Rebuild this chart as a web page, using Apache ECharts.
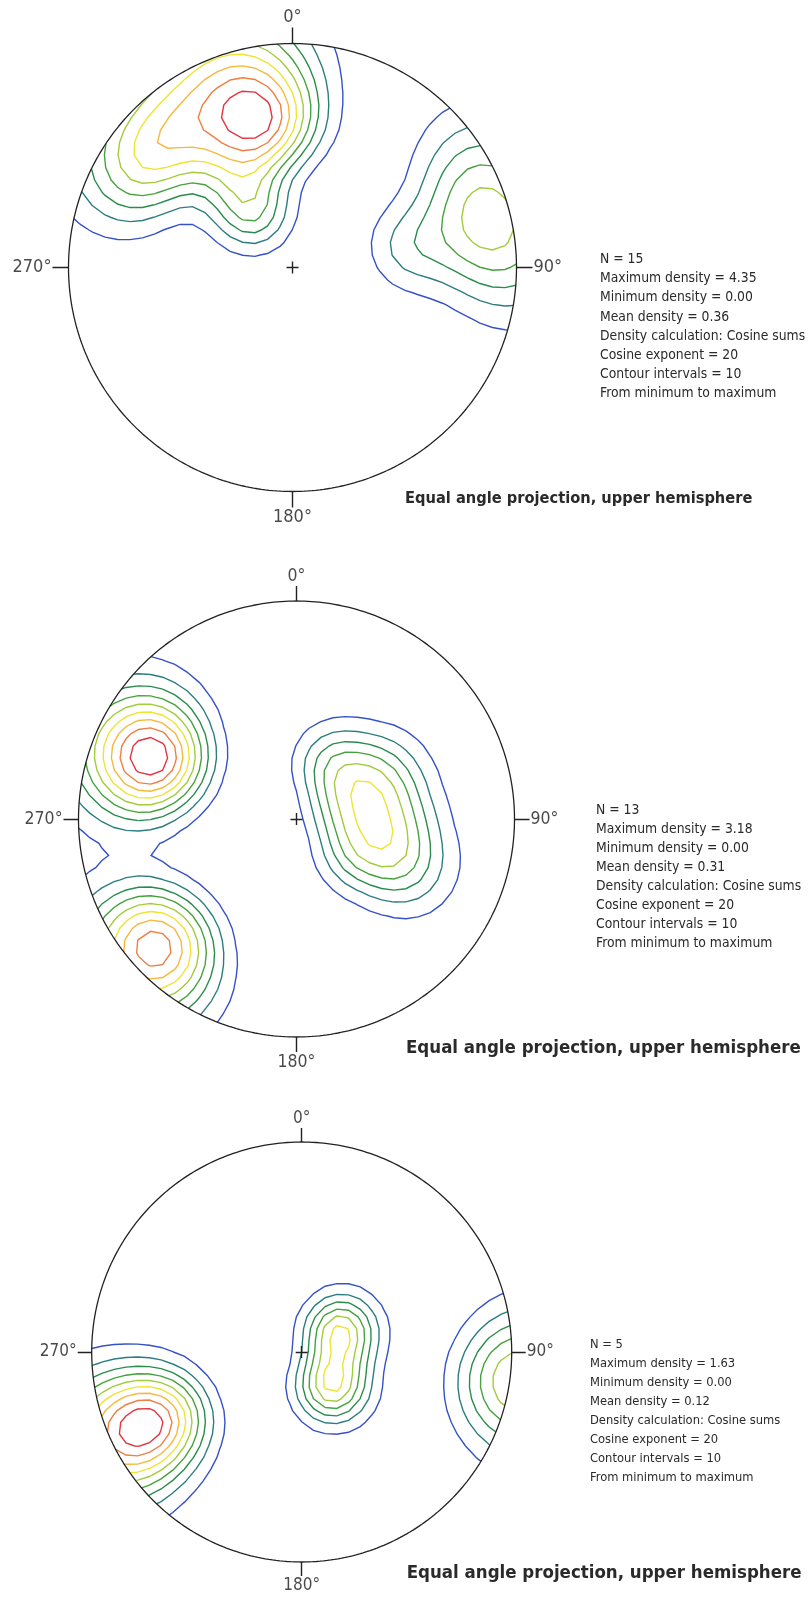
<!DOCTYPE html>
<html><head><meta charset="utf-8">
<script src="https://cdn.jsdelivr.net/npm/echarts/dist/echarts.min.js"></script>
<style>html,body{margin:0;padding:0;background:#fff}#c{width:809px;height:1602px}</style>
</head><body><div id="c"></div>
<script>
// ---------- DATA (poles: [trend deg, plunge deg], upper hemisphere) ----------
const poles1 = [[348.1,19.6],[353.9,22.0],[348.8,26.2],
  [331.2,28.2],[319.5,12.2],[298.3,11.0],[333.7,3.9],[309.5,11.0],[348.5,2.7],
  [326.6,47.1],[322.9,59.0],
  [80,33],[62,5],[88,3],[76,6]];
const poles2 = [[292.6,9.5],[301.8,16.4],[293.8,26.9],[283.8,17.8],
  [232.7,5.1],[227.2,12.4],[223.3,4.4],
  [33.0,55.9],[62.1,42.6],[75.9,64.8],[90.2,42.6],[120.3,55.4],[114.0,33.3]];
const poles3 = [[62,66.5],[138,65.5],[97.6,-3],[245,18],[245,2]];
const info1 = ['N = 15','Maximum density = 4.35','Minimum density = 0.00','Mean density = 0.36','Density calculation: Cosine sums','Cosine exponent = 20','Contour intervals = 10','From minimum to maximum'];
const info2 = ['N = 13','Maximum density = 3.18','Minimum density = 0.00','Mean density = 0.31','Density calculation: Cosine sums','Cosine exponent = 20','Contour intervals = 10','From minimum to maximum'];
const info3 = ['N = 5','Maximum density = 1.63','Minimum density = 0.00','Mean density = 0.12','Density calculation: Cosine sums','Cosine exponent = 20','Contour intervals = 10','From minimum to maximum'];
const tickLabels = ['0°','90°','180°','270°'];
const caption = 'Equal angle projection, upper hemisphere';
const cosineExponent = 20;
const contourIntervals = 10;
const levelColors = ['#3552c8','#2b7d80','#2a8c4c','#45a23c','#a2cc3c','#eee432','#f7b83c','#ef7f42','#e5333f'];

// ---------- LAYOUT ----------
const layouts = [
  {poles:poles1, info:info1, cx:292.5, cy:267.5, R:224, tick:16, lblFont:18, infoX:600, infoY:259.5, infoFont:13.8, infoLH:19.2, capX:405, capY:499, capFont:16.3},
  {poles:poles2, info:info2, cx:296.5, cy:819, R:218, tick:15, lblFont:17.5, infoX:596, infoY:810.7, infoFont:13.8, infoLH:19.0, capX:406, capY:1048, capFont:18.5},
  {poles:poles3, info:info3, cx:301.7, cy:1352, R:210, tick:14, lblFont:17, infoX:590, infoY:1345, infoFont:12.8, infoLH:19.0, capX:406.7, capY:1573, capFont:18.5}
];
const FONT = '"DejaVu Sans Condensed","DejaVu Sans",sans-serif';

// ---------- density (cosine sums) ----------
function poleVec(p){ const t=p[0]*Math.PI/180, e=p[1]*Math.PI/180; return [Math.cos(e)*Math.sin(t), Math.cos(e)*Math.cos(t), Math.sin(e)]; }
function dens(pv,x,y){ const q=1+x*x+y*y; const vx=2*x/q, vy=2*y/q, vz=(2-q)/q; let s=0;
  for(const p of pv){ const d=vx*p[0]+vy*p[1]+vz*p[2]; if(d>0) s+=Math.pow(d,cosineExponent); } return s; }

const NG=38, G=1.06;
function gridXY(i,j){ return [-G+2*G*i/NG, -G+2*G*j/NG]; }
function buildGrid(pv){ const v=[]; for(let j=0;j<=NG;j++){ const row=[]; for(let i=0;i<=NG;i++){ const [x,y]=gridXY(i,j); row.push(dens(pv,x,y)); } v.push(row);} return v; }
function fineMax(pv){ let m=0; const n=220; for(let j=0;j<=n;j++) for(let i=0;i<=n;i++){ const x=-1+2*i/n, y=-1+2*j/n; if(x*x+y*y<=1){ const d=dens(pv,x,y); if(d>m) m=d; } } return m; }

function edgePt(e,i,j,v,lev){
  let a,b,key;
  if(e===0){a=[i,j];b=[i+1,j];key='h'+i+'_'+j;}
  else if(e===1){a=[i+1,j];b=[i+1,j+1];key='v'+(i+1)+'_'+j;}
  else if(e===2){a=[i,j+1];b=[i+1,j+1];key='h'+i+'_'+(j+1);}
  else {a=[i,j];b=[i,j+1];key='v'+i+'_'+j;}
  const va=v[a[1]][a[0]], vb=v[b[1]][b[0]]; const t=(lev-va)/(vb-va);
  const pa=gridXY(a[0],a[1]), pb=gridXY(b[0],b[1]);
  return {key, pt:[pa[0]+t*(pb[0]-pa[0]), pa[1]+t*(pb[1]-pa[1])]};
}
const TABLE={1:[[3,0]],2:[[0,1]],3:[[3,1]],4:[[1,2]],6:[[0,2]],7:[[3,2]],8:[[2,3]],9:[[0,2]],11:[[1,2]],12:[[1,3]],13:[[0,1]],14:[[3,0]]};
function marching(v,lev){
  const segs=[];
  for(let j=0;j<NG;j++) for(let i=0;i<NG;i++){
    const a=v[j][i],b=v[j][i+1],c=v[j+1][i+1],d=v[j+1][i];
    const idx=(a>lev?1:0)|(b>lev?2:0)|(c>lev?4:0)|(d>lev?8:0);
    if(idx===0||idx===15) continue;
    let pairs;
    const center=(a+b+c+d)/4>lev;
    if(idx===5) pairs=center?[[0,1],[2,3]]:[[3,0],[1,2]];
    else if(idx===10) pairs=center?[[3,0],[1,2]]:[[0,1],[2,3]];
    else pairs=TABLE[idx];
    for(const p of pairs) segs.push([edgePt(p[0],i,j,v,lev), edgePt(p[1],i,j,v,lev)]);
  }
  return chain(segs);
}
function chain(segs){
  const adj=new Map();
  segs.forEach((s,k)=>{ for(const e of s){ if(!adj.has(e.key)) adj.set(e.key,[]); adj.get(e.key).push(k);} });
  const used=new Array(segs.length).fill(false), out=[];
  for(let s0=0;s0<segs.length;s0++){
    if(used[s0]) continue; used[s0]=true;
    const line=[segs[s0][0],segs[s0][1]];
    let cur=segs[s0][1];
    for(;;){ const nb=(adj.get(cur.key)||[]).find(k=>!used[k]); if(nb===undefined) break; used[nb]=true; const s=segs[nb]; const nx=s[0].key===cur.key?s[1]:s[0]; line.push(nx); cur=nx; }
    cur=line[0];
    for(;;){ const nb=(adj.get(cur.key)||[]).find(k=>!used[k]); if(nb===undefined) break; used[nb]=true; const s=segs[nb]; const nx=s[0].key===cur.key?s[1]:s[0]; line.unshift(nx); cur=nx; }
    out.push(line.map(e=>e.pt));
  }
  return out;
}
function cross(a,b){ const dx=b[0]-a[0], dy=b[1]-a[1]; const A=dx*dx+dy*dy, B=2*(a[0]*dx+a[1]*dy), C=a[0]*a[0]+a[1]*a[1]-1;
  const t=(-B+Math.sqrt(Math.max(0,B*B-4*A*C)))/(2*A); return [a[0]+t*dx,a[1]+t*dy]; }
function clip(line){
  const res=[]; let run=[];
  const inside=p=>p[0]*p[0]+p[1]*p[1]<=1;
  for(let k=0;k<line.length;k++){
    const p=line[k], ip=inside(p);
    if(k>0){ const q=line[k-1], iq=inside(q);
      if(iq&&!ip){ run.push(cross(q,p)); if(run.length>1) res.push(run); run=[]; }
      else if(!iq&&ip){ run=[cross(p,q)]; } }
    if(ip) run.push(p);
  }
  if(run.length>1) res.push(run);
  return res;
}

// ---------- build option ----------
const option={animation:false, grid:[], xAxis:[], yAxis:[], series:[], graphic:[]};
const LR=1.15;
layouts.forEach((c,ci)=>{
  option.grid.push({left:c.cx-LR*c.R, top:c.cy-LR*c.R, width:2*LR*c.R, height:2*LR*c.R});
  option.xAxis.push({type:'value', gridIndex:ci, min:-LR, max:LR, show:false});
  option.yAxis.push({type:'value', gridIndex:ci, min:-LR, max:LR, show:false});
  const ax={xAxisIndex:ci, yAxisIndex:ci};
  const pv=c.poles.map(poleVec);
  const v=buildGrid(pv);
  const mx=fineMax(pv);
  for(let k=1;k<contourIntervals;k++){
    const lev=mx*k/contourIntervals;
    const lines=[]; marching(v,lev).forEach(l=>clip(l).forEach(r=>lines.push({coords:r})));
    option.series.push(Object.assign({type:'lines', coordinateSystem:'cartesian2d', polyline:true, silent:true, z:3,
      data:lines, lineStyle:{color:levelColors[k-1], width:1.4, opacity:1}},ax));
  }
  const circ=[]; for(let a=0;a<=360;a+=1){ const r=a*Math.PI/180; circ.push([Math.sin(r),Math.cos(r)]); }
  option.series.push(Object.assign({type:'line', data:circ, showSymbol:false, silent:true, clip:false, z:4,
    lineStyle:{color:'#222', width:1.3}},ax));
  const t=1+c.tick/c.R;
  const dirs=[[0,1],[1,0],[0,-1],[-1,0]];
  option.series.push(Object.assign({type:'lines', coordinateSystem:'cartesian2d', silent:true, z:4,
    data:dirs.map(d=>({coords:[[d[0],d[1]],[d[0]*t,d[1]*t]]})), lineStyle:{color:'#222', width:1.4, opacity:1}},ax));
  const s=6/c.R;
  option.series.push(Object.assign({type:'lines', coordinateSystem:'cartesian2d', silent:true, z:4,
    data:[{coords:[[-s,0],[s,0]]},{coords:[[0,-s],[0,s]]}], lineStyle:{color:'#222', width:1.4, opacity:1}},ax));
  const pos=['top','right','bottom','left'];
  option.series.push(Object.assign({type:'scatter', symbolSize:0, silent:true, z:5,
    data:dirs.map((d,k)=>({value:[d[0]*t,d[1]*t], label:{show:true, position:pos[k], distance:1, formatter:tickLabels[k],
      fontSize:c.lblFont, fontFamily:FONT, color:'#1a1a1a'}}))},ax));
  option.graphic.push({type:'text', left:c.infoX, top:c.infoY-c.infoLH/2, silent:true,
    style:{text:c.info.join('\n'), fontSize:c.infoFont, fontFamily:FONT, lineHeight:c.infoLH, fill:'#2a2a2a'}});
  option.graphic.push({type:'text', left:c.capX, top:c.capY-c.capFont*0.5, silent:true,
    style:{text:caption, fontSize:c.capFont, fontFamily:FONT, fontWeight:'bold', fill:'#2a2a2a'}});
});
const chart=echarts.init(document.getElementById('c'), null, {renderer:'canvas'});
chart.setOption(option);
</script>
</body></html>
